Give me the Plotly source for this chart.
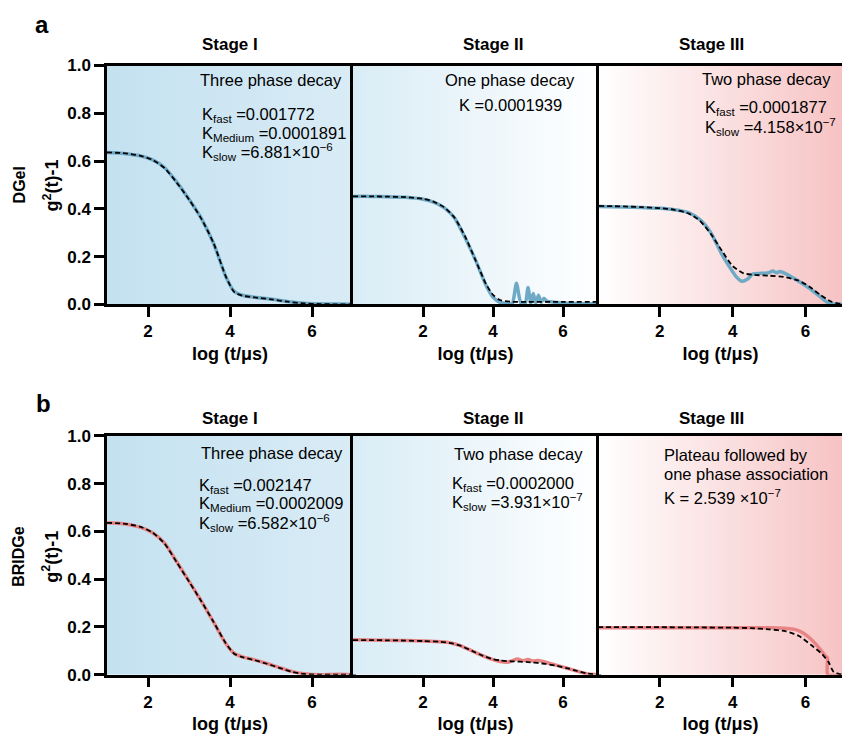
import plotly.graph_objects as go

W, H = 842, 751
FONT = "Arial, Liberation Sans, sans-serif"

# ---------------- data (log t/us, g2(t)-1) ----------------
# DGel, Stage I
dgel_s1_x = [1.0, 1.4, 1.8, 2.1, 2.4, 2.7, 3.0, 3.3, 3.6, 3.9, 4.1, 4.3, 4.6, 5.0, 5.4, 5.8, 6.2, 6.6, 7.0]
dgel_s1_y = [0.636, 0.632, 0.622, 0.606, 0.573, 0.512, 0.44, 0.36, 0.255, 0.115, 0.055, 0.038, 0.03, 0.022, 0.012, 0.005, 0.002, 0.001, 0.0]
dgel_s1_fit = [0.636, 0.633, 0.623, 0.606, 0.571, 0.51, 0.439, 0.359, 0.256, 0.116, 0.052, 0.036, 0.029, 0.021, 0.011, 0.004, 0.001, 0.0, 0.0]

# DGel, Stage II
dgel_s2_x = [0, 0.5, 1.0, 1.5, 2.0, 2.3, 2.6, 2.9, 3.2, 3.5, 3.8, 4.0, 4.2, 4.4, 4.55, 4.67, 4.8,
             4.92, 5.0, 5.08, 5.15, 5.22, 5.3, 5.38, 5.45, 5.55, 5.7, 6.0, 6.5, 7.0]
dgel_s2_y = [0.452, 0.452, 0.45, 0.448, 0.44, 0.428, 0.405, 0.362, 0.28, 0.185, 0.08, 0.03, 0.008, 0.003, 0.003, 0.088, 0.004,
             0.004, 0.07, 0.005, 0.045, 0.006, 0.038, 0.008, 0.025, 0.012, 0.01, 0.006, 0.003, 0.002]
dgel_s2_fit_x = [0, 0.5, 1.0, 1.5, 2.0, 2.3, 2.6, 2.9, 3.2, 3.5, 3.8, 4.0, 4.2, 4.5, 5.0, 6.0, 7.0]
dgel_s2_fit = [0.452, 0.452, 0.451, 0.449, 0.442, 0.43, 0.407, 0.363, 0.285, 0.185, 0.085, 0.04, 0.018, 0.011, 0.01, 0.01, 0.01]

# DGel, Stage III
dgel_s3_x = [0.33, 1.0, 1.5, 2.0, 2.4, 2.8, 3.1, 3.4, 3.7, 3.9, 4.1, 4.25, 4.4, 4.55, 4.8, 5.0, 5.1, 5.2, 5.3, 5.5,
             5.8, 6.1, 6.4, 6.6, 6.75, 7.0]
dgel_s3_y = [0.41, 0.408, 0.405, 0.402, 0.396, 0.383, 0.355, 0.3, 0.21, 0.16, 0.115, 0.097, 0.105, 0.127, 0.13, 0.133, 0.14, 0.132, 0.138, 0.125,
             0.098, 0.068, 0.032, 0.008, 0.001, 0.0]
dgel_s3_fit_x = [0.33, 1.0, 1.5, 2.0, 2.4, 2.8, 3.1, 3.4, 3.7, 4.0, 4.3, 4.6, 5.0, 5.4, 5.8, 6.1, 6.4, 6.7, 7.0]
dgel_s3_fit = [0.412, 0.41, 0.407, 0.403, 0.396, 0.38, 0.35, 0.295, 0.225, 0.16, 0.13, 0.123, 0.12, 0.115, 0.1, 0.075, 0.04, 0.012, 0.0]

# BRIDGe, Stage I
bridge_s1_x = [1.0, 1.4, 1.8, 2.1, 2.4, 2.7, 3.0, 3.3, 3.6, 3.9, 4.1, 4.3, 4.6, 4.9, 5.2, 5.5, 5.8, 6.2, 6.6, 7.0]
bridge_s1_y = [0.636, 0.632, 0.618, 0.596, 0.552, 0.473, 0.392, 0.308, 0.22, 0.13, 0.09, 0.075, 0.062, 0.047, 0.03, 0.014, 0.004, 0.0, 0.002, 0.0]
bridge_s1_fit = [0.636, 0.633, 0.62, 0.597, 0.55, 0.471, 0.39, 0.308, 0.221, 0.131, 0.088, 0.074, 0.061, 0.046, 0.029, 0.013, 0.003, 0.0, 0.0, 0.0]

# BRIDGe, Stage II
bridge_s2_x = [0, 0.5, 1.0, 1.5, 2.0, 2.5, 2.8, 3.1, 3.4, 3.7, 4.0, 4.2, 4.4, 4.55, 4.7, 4.85, 5.0, 5.15, 5.3, 5.5,
               5.8, 6.1, 6.4, 6.7, 7.0]
bridge_s2_y = [0.146, 0.145, 0.144, 0.143, 0.141, 0.138, 0.133, 0.12, 0.1, 0.08, 0.063, 0.055, 0.052, 0.058, 0.066, 0.058, 0.064, 0.057, 0.06, 0.052,
               0.04, 0.028, 0.015, 0.003, 0.0]
bridge_s2_fit = [0.145, 0.145, 0.144, 0.143, 0.141, 0.138, 0.132, 0.12, 0.1, 0.08, 0.065, 0.06, 0.057, 0.056, 0.055, 0.054, 0.053, 0.051, 0.049, 0.045,
                 0.038, 0.028, 0.016, 0.005, 0.0]

# BRIDGe, Stage III
bridge_s3_x = [0.3, 1.0, 2.0, 3.0, 4.0, 5.0, 5.4, 5.7, 5.9, 6.1, 6.3, 6.45, 6.55, 6.6, 6.61, 7.0]
bridge_s3_y = [0.197, 0.197, 0.197, 0.197, 0.197, 0.197, 0.195, 0.19, 0.178, 0.156, 0.125, 0.097, 0.078, 0.07, 0.0, 0.0]
bridge_s3_fit_x = [0.3, 1.0, 2.0, 3.0, 4.0, 4.5, 5.0, 5.46, 5.82, 6.18, 6.45, 6.63, 6.77, 7.0]
bridge_s3_fit = [0.199, 0.199, 0.199, 0.198, 0.197, 0.195, 0.19, 0.182, 0.162, 0.121, 0.087, 0.053, 0.012, 0.0]

y_ticks = [0.0, 0.2, 0.4, 0.6, 0.8, 1.0]
x_ticks = [2, 4, 6]
stage_titles = ["Stage I", "Stage II", "Stage III"]
row_labels = ["DGel", "BRIDGe"]

BLUE = "#6ea9c6"
RED = "#e88484"

# ---------------- layout geometry (pixels) ----------------
col_px = [(107, 353), (353, 598), (599, 842)]
row_px = [(58, 303), (438, 683)]
x_ranges = [[1, 7], [0, 7], [0.33, 7]]
bg = [("#c4e1f0", "#d9ecf6"), ("#d9ecf6", "#ffffff"), ("#ffffff", "#f7c3c4")]


def px_x(x):
    return x / W


def px_y(y):
    return 1 - y / H


panels = [
    (dgel_s1_x, dgel_s1_y, dgel_s1_x, dgel_s1_fit, BLUE),
    (dgel_s2_x, dgel_s2_y, dgel_s2_fit_x, dgel_s2_fit, BLUE),
    (dgel_s3_x, dgel_s3_y, dgel_s3_fit_x, dgel_s3_fit, BLUE),
    (bridge_s1_x, bridge_s1_y, bridge_s1_x, bridge_s1_fit, RED),
    (bridge_s2_x, bridge_s2_y, bridge_s2_x, bridge_s2_fit, RED),
    (bridge_s3_x, bridge_s3_y, bridge_s3_fit_x, bridge_s3_fit, RED),
]

fig = go.Figure()
layout = dict(
    width=W, height=H, margin=dict(l=0, r=0, t=0, b=0),
    paper_bgcolor="white", plot_bgcolor="rgba(0,0,0,0)",
    showlegend=False, font=dict(family=FONT, color="black"),
)

for i, (dx, dy, fx, fy, col) in enumerate(panels):
    r, c = divmod(i, 3)
    n = i + 1
    xa, ya = f"x{n if n > 1 else ''}", f"y{n if n > 1 else ''}"
    xr = x_ranges[c]
    # gradient background
    fig.add_trace(go.Scatter(
        x=[xr[0], xr[1], xr[1], xr[0], xr[0]], y=[0, 0, 1, 1, 0],
        fill="toself", mode="lines", line=dict(width=0),
        fillgradient=dict(type="horizontal", colorscale=[[0, bg[c][0]], [1, bg[c][1]]]),
        hoverinfo="skip", xaxis=xa, yaxis=ya))
    fig.add_trace(go.Scatter(x=dx, y=dy, mode="lines", line=dict(color=col, width=3.5, shape="spline", smoothing=0.6),
                             xaxis=xa, yaxis=ya))
    fig.add_trace(go.Scatter(x=fx, y=fy, mode="lines", line=dict(color="black", width=1.8, dash="5px,3px", shape="spline", smoothing=0.6),
                             xaxis=xa, yaxis=ya))
    x0, x1 = col_px[c]
    y0, y1 = row_px[r]
    layout[f"xaxis{n if n > 1 else ''}"] = dict(
        domain=[px_x(x0), px_x(x1)], anchor=ya, range=xr,
        tickvals=x_ticks, ticks="outside", ticklen=10, tickwidth=2.5, tickcolor="black",
        showline=True, linewidth=2.5, linecolor="black", mirror=True,
        showgrid=False, zeroline=False,
        tickfont=dict(size=17, family=FONT, weight="bold"),
        title=dict(text="log (t/μs)", font=dict(size=18, family=FONT, weight="bold"), standoff=7),
    )
    layout[f"yaxis{n if n > 1 else ''}"] = dict(
        domain=[px_y(y1), px_y(y0)], anchor=xa, range=[0, 1],
        tickvals=y_ticks if c == 0 else [], tickformat=".1f",
        ticks="outside" if c == 0 else "", ticklen=10, tickwidth=2.5, tickcolor="black",
        showticklabels=(c == 0),
        showline=True, linewidth=2.5, linecolor="black", mirror=(c < 2),
        showgrid=False, zeroline=False,
        tickfont=dict(size=17, family=FONT, weight="bold"),
    )

ann = []


def add_text(text, x, y, size, bold=False, xanchor="left", angle=0):
    ann.append(dict(text=text, x=px_x(x), y=px_y(y), xref="paper", yref="paper",
                    xanchor=xanchor, yanchor="middle", showarrow=False, textangle=angle,
                    font=dict(size=size, family=FONT, color="black", weight="bold" if bold else "normal")))


# panel letters
add_text("a", 42, 16, 24, True, "center")
add_text("b", 43, 405, 24, True, "center")

# stage titles
for r, yy in enumerate([36, 420]):
    for c, xx in enumerate([230, 493, 711]):
        add_text(stage_titles[c], xx, yy, 17, True, "center")

# row labels and y-titles
for r, yy in enumerate([181, 562]):
    add_text(row_labels[r], 19, yy, 16, True, "center", -90)
    add_text("g<sup>2</sup>(t)-1", 51, yy, 18, True, "center", -90)

TS = 16.5
# DGel annotations
add_text("Three phase decay", 344, 73, TS, xanchor="right")
add_text("K<sub>fast</sub> =0.001772", 200, 109, TS)
add_text("K<sub>Medium</sub> =0.0001891", 200, 128, TS)
add_text("K<sub>slow</sub> =6.881×10<sup>−6</sup>", 200, 147, TS)
add_text("One phase decay", 577, 73, TS, xanchor="right")
add_text("K =0.0001939", 457, 98, TS)
add_text("Two phase decay", 700, 72, TS)
add_text("K<sub>fast</sub> =0.0001877", 703, 102, TS)
add_text("K<sub>slow</sub> =4.158×10<sup>−7</sup>", 703, 121, TS)

# BRIDGe annotations
add_text("Three phase decay", 345, 456, TS, xanchor="right")
add_text("K<sub>fast</sub> =0.002147", 197, 489, TS)
add_text("K<sub>Medium</sub> =0.0002009", 197, 508, TS)
add_text("K<sub>slow</sub> =6.582×10<sup>−6</sup>", 197, 527, TS)
add_text("Two phase decay", 452, 457, TS)
add_text("K<sub>fast</sub> =0.0002000", 450, 487, TS)
add_text("K<sub>slow</sub> =3.931×10<sup>−7</sup>", 450, 506, TS)
add_text("Plateau followed by", 662, 458, TS)
add_text("one phase association", 662, 477, TS)
add_text("K = 2.539 ×10<sup>−7</sup>", 662, 501, TS)

layout["annotations"] = ann
fig.update_layout(**layout)
fig.write_html("out.html")
